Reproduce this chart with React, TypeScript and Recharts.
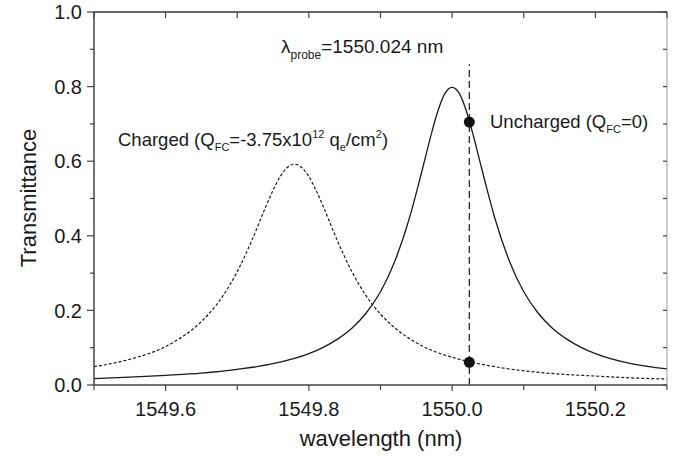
import React from 'react';
import { ComposedChart, Line, Scatter, XAxis, YAxis, ReferenceLine } from 'recharts';

// Uncharged (solid) curve
const unchargedX = [1549.50, 1549.55, 1549.60, 1549.65, 1549.70, 1549.75, 1549.80, 1549.82, 1549.84, 1549.86, 1549.88, 1549.90, 1549.92, 1549.94, 1549.95, 1549.96, 1549.97, 1549.98, 1549.99, 1550.00, 1550.01, 1550.02, 1550.03, 1550.04, 1550.05, 1550.06, 1550.08, 1550.10, 1550.12, 1550.14, 1550.16, 1550.18, 1550.20, 1550.25, 1550.30];
const unchargedT = [0.017, 0.021, 0.026, 0.032, 0.042, 0.057, 0.084, 0.101, 0.123, 0.152, 0.193, 0.250, 0.332, 0.445, 0.515, 0.590, 0.666, 0.734, 0.782, 0.798, 0.782, 0.734, 0.666, 0.590, 0.515, 0.445, 0.332, 0.250, 0.193, 0.152, 0.123, 0.101, 0.084, 0.057, 0.043];

// Charged (dashed) curve
const chargedX = [1549.50, 1549.55, 1549.60, 1549.62, 1549.64, 1549.66, 1549.68, 1549.70, 1549.72, 1549.74, 1549.75, 1549.76, 1549.77, 1549.78, 1549.79, 1549.80, 1549.81, 1549.82, 1549.84, 1549.86, 1549.88, 1549.90, 1549.92, 1549.94, 1549.96, 1550.01, 1550.06, 1550.11, 1550.16, 1550.20, 1550.25, 1550.30];
const chargedT = [0.049, 0.069, 0.103, 0.125, 0.153, 0.190, 0.239, 0.304, 0.386, 0.479, 0.522, 0.559, 0.583, 0.592, 0.583, 0.559, 0.522, 0.479, 0.386, 0.304, 0.239, 0.190, 0.153, 0.125, 0.103, 0.069, 0.049, 0.036, 0.028, 0.024, 0.019, 0.016];

// Probe wavelength and the two marked points
const probeWavelength = 1550.024;
const probeLineTop = 0.86;
const probeDotX = [1550.024, 1550.024];
const probeDotT = [0.705, 0.061];

// Axis ticks
const xTicks = [1549.5, 1549.6, 1549.7, 1549.8, 1549.9, 1550.0, 1550.1, 1550.2, 1550.3];
const yTicks = [0, 0.1, 0.2, 0.3, 0.4, 0.5, 0.6, 0.7, 0.8, 0.9, 1.0];
const xDomain = [1549.5, 1550.3];
const yDomain = [0, 1];

const unchargedData = unchargedX.map((x, i) => ({ x, y: unchargedT[i] }));
const chargedData = chargedX.map((x, i) => ({ x, y: chargedT[i] }));
const dotData = probeDotX.map((x, i) => ({ x, y: probeDotT[i] }));

const FONT = '"Liberation Sans", Arial, Helvetica, sans-serif';
const AXIS = '#444';
const INK = '#1a1a1a';

const isMajor = (v: number) => Math.round(v * 10) % 2 === 0;

const BottomTick = (props: any) => {
  const { x, y, payload } = props;
  const v = payload.value as number;
  const major = isMajor(v);
  return (
    <g>
      <line x1={x} x2={x} y1={y} y2={y + (major ? 6 : 5)} stroke={AXIS} strokeWidth={1.2} />
      {major && (
        <text x={x} y={y + 31} textAnchor="middle" fontFamily={FONT} fontSize={20} fill={INK}>
          {v.toFixed(1)}
        </text>
      )}
    </g>
  );
};

const TopTick = (props: any) => {
  const { x, y } = props;
  return <line x1={x} x2={x} y1={y} y2={y + 6} stroke={AXIS} strokeWidth={1.2} />;
};

const LeftTick = (props: any) => {
  const { x, y, payload } = props;
  const v = payload.value as number;
  const major = isMajor(v);
  return (
    <g>
      <line x1={x} x2={x - (major ? 7 : 4)} y1={y} y2={y} stroke={AXIS} strokeWidth={1.2} />
      {major && (
        <text x={x - 12} y={y} dy="0.36em" textAnchor="end" fontFamily={FONT} fontSize={20} fill={INK}>
          {v.toFixed(1)}
        </text>
      )}
    </g>
  );
};

const RightTick = (props: any) => {
  const { x, y } = props;
  return <line x1={x} x2={x - 4} y1={y} y2={y} stroke={AXIS} strokeWidth={1.2} />;
};

const Dot = (props: any) => <circle cx={props.cx} cy={props.cy} r={5.5} fill="#111" />;

export default function App() {
  return (
    <div style={{ position: 'absolute', left: 0, top: 0, width: 684, height: 457, background: '#fff' }}>
      <ComposedChart width={684} height={457} margin={{ top: 11, right: 16, bottom: 0, left: 0 }}>
        <XAxis
          xAxisId="b"
          type="number"
          dataKey="x"
          domain={xDomain}
          ticks={xTicks}
          allowDataOverflow
          height={72}
          tickSize={0}
          tickMargin={0}
          tickLine={false}
          tick={<BottomTick />}
          axisLine={{ stroke: AXIS, strokeWidth: 1.5 }}
          interval={0}
        />
        <XAxis
          xAxisId="t"
          orientation="top"
          type="number"
          dataKey="x"
          domain={xDomain}
          ticks={xTicks}
          allowDataOverflow
          height={1}
          tickSize={0}
          tickMargin={0}
          tickLine={false}
          tick={<TopTick />}
          axisLine={{ stroke: '#666', strokeWidth: 2 }}
          interval={0}
        />
        <YAxis
          yAxisId="l"
          type="number"
          domain={yDomain}
          ticks={yTicks}
          allowDataOverflow
          width={94}
          tickSize={0}
          tickMargin={0}
          tickLine={false}
          tick={<LeftTick />}
          axisLine={{ stroke: AXIS, strokeWidth: 1.5 }}
          interval={0}
        />
        <YAxis
          yAxisId="r"
          orientation="right"
          type="number"
          domain={yDomain}
          ticks={yTicks}
          allowDataOverflow
          width={1}
          tickSize={0}
          tickMargin={0}
          tickLine={false}
          tick={<RightTick />}
          axisLine={{ stroke: '#999', strokeWidth: 1 }}
          interval={0}
        />
        <ReferenceLine
          xAxisId="b"
          yAxisId="l"
          segment={[{ x: probeWavelength, y: 0 }, { x: probeWavelength, y: probeLineTop }]}
          stroke={INK}
          strokeWidth={1.2}
          strokeDasharray="7 4"
        />
        <Line
          xAxisId="b"
          yAxisId="l"
          data={chargedData}
          dataKey="y"
          type="monotone"
          stroke={INK}
          strokeWidth={1.2}
          strokeDasharray="3 2"
          dot={false}
          isAnimationActive={false}
        />
        <Line
          xAxisId="b"
          yAxisId="l"
          data={unchargedData}
          dataKey="y"
          type="monotone"
          stroke={INK}
          strokeWidth={1.3}
          dot={false}
          isAnimationActive={false}
        />
        <Scatter
          xAxisId="b"
          yAxisId="l"
          data={dotData}
          dataKey="y"
          shape={<Dot />}
          isAnimationActive={false}
        />
      </ComposedChart>
      <svg
        width={684}
        height={457}
        style={{ position: 'absolute', left: 0, top: 0, pointerEvents: 'none' }}
        fontFamily={FONT}
        fill={INK}
      >
        <text x={28} y={198} dy="0.36em" textAnchor="middle" fontSize={22} transform="rotate(-90 28 198)">
          Transmittance
        </text>
        <text x={381} y={446} textAnchor="middle" fontSize={22}>
          wavelength (nm)
        </text>
        <text x={281} y={53} fontSize={19}>
          λ<tspan fontSize={12} dy={6}>probe</tspan>
          <tspan dy={-6}>=1550.024 nm</tspan>
        </text>
        <text x={118} y={146} fontSize={18.5}>
          Charged (Q<tspan fontSize={11} dy={5}>FC</tspan>
          <tspan dy={-5}>=-3.75x10</tspan>
          <tspan fontSize={11} dy={-8}>12</tspan>
          <tspan dy={8}> q</tspan>
          <tspan fontSize={11} dy={5}>e</tspan>
          <tspan dy={-5}>/cm</tspan>
          <tspan fontSize={11} dy={-8}>2</tspan>
          <tspan dy={8}>)</tspan>
        </text>
        <text x={490} y={128} fontSize={18.5}>
          Uncharged (Q<tspan fontSize={11} dy={5}>FC</tspan>
          <tspan dy={-5}>=0)</tspan>
        </text>
      </svg>
    </div>
  );
}
